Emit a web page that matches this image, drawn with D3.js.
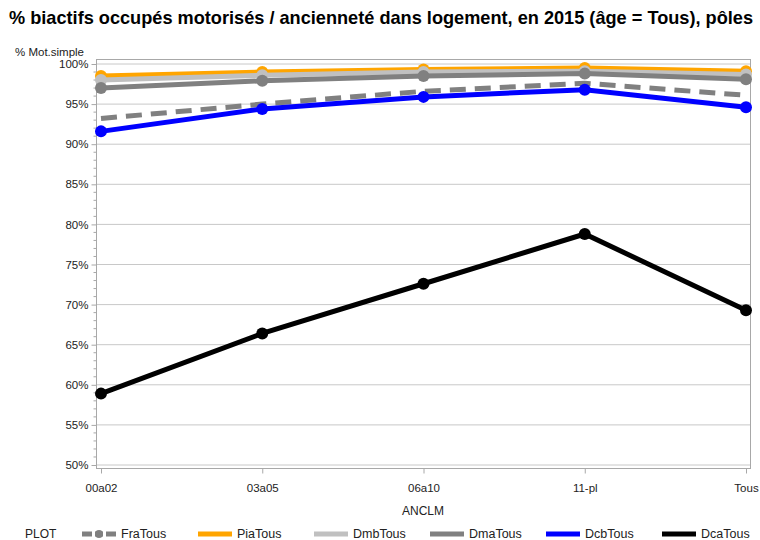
<!DOCTYPE html>
<html>
<head>
<meta charset="utf-8">
<script src="https://cdn.jsdelivr.net/npm/d3@7"></script>
<style>
  body { margin: 0; background: #fff; }
  svg { font-family: "Liberation Sans", Arial, sans-serif; }
</style>
</head>
<body>
<div id="chart"></div>
<script>
// données
const categories = ["00a02", "03a05", "06a10", "11-pl", "Tous"];
const seriesNames = ["FraTous", "PiaTous", "DmbTous", "DmaTous", "DcbTous", "DcaTous"];
const fraTous = [93.2, 95.0, 96.6, 97.6, 96.1];
const piaTous = [98.5, 99.0, 99.3, 99.5, 99.1];
const dmbTous = [98.0, 98.6, 99.0, 99.1, 98.7];
const dmaTous = [97.0, 97.9, 98.5, 98.8, 98.1];
const dcbTous = [91.6, 94.4, 95.9, 96.8, 94.6];
const dcaTous = [58.9, 66.4, 72.6, 78.8, 69.3];
const yTicks = [50, 55, 60, 65, 70, 75, 80, 85, 90, 95, 100];

const styles = {
  FraTous: { color: "#808080", dash: "16,9", marker: false },
  PiaTous: { color: "#FFA500", dash: null, marker: true },
  DmbTous: { color: "#C0C0C0", dash: null, marker: true },
  DmaTous: { color: "#808080", dash: null, marker: true },
  DcbTous: { color: "#0000FF", dash: null, marker: true },
  DcaTous: { color: "#000000", dash: null, marker: true }
};
const values = [fraTous, piaTous, dmbTous, dmaTous, dcbTous, dcaTous];

const width = 760, height = 540;
const svg = d3.select("#chart").append("svg")
  .attr("width", width).attr("height", height);

const x = d3.scalePoint().domain(categories).range([101, 746]);
const y = d3.scaleLinear().domain([50, 100]).range([465, 64]);

// titre
svg.append("text").attr("x", 9).attr("y", 24)
  .attr("font-size", 18.1).attr("font-weight", "bold")
  .attr("textLength", 744).attr("lengthAdjust", "spacingAndGlyphs")
  .text("% biactifs occupés motorisés / ancienneté dans logement, en 2015 (âge = Tous), pôles");

svg.append("text").attr("x", 15).attr("y", 56)
  .attr("font-size", 11.5).attr("fill", "#222").text("% Mot.simple");

// grille
svg.append("g").selectAll("line").data(yTicks).enter().append("line")
  .attr("x1", 96).attr("x2", 750)
  .attr("y1", d => y(d)).attr("y2", d => y(d))
  .attr("stroke", "#c8c8c8").attr("stroke-width", 1);

// cadre
svg.append("rect").attr("x", 96.5).attr("y", 59.5).attr("width", 654).attr("height", 409)
  .attr("fill", "none").attr("stroke", "#a8a8a8");

// axe y
const yAxis = d3.axisLeft(y).tickValues(yTicks).tickFormat(d => d + "%").tickSize(5).tickPadding(3);
const gy = svg.append("g").attr("transform", "translate(96.5,0)").call(yAxis);
gy.select(".domain").remove();
gy.selectAll(".tick line").attr("stroke", "#a8a8a8");
gy.selectAll("text").attr("font-size", 11.5).attr("fill", "#222");

const minorTicks = d3.range(50, 100.01, 1).filter(v => v % 5 !== 0);
svg.append("g").selectAll("line").data(minorTicks).enter().append("line")
  .attr("x1", 93.5).attr("x2", 96.5)
  .attr("y1", d => y(d)).attr("y2", d => y(d))
  .attr("stroke", "#a8a8a8");

// axe x
const xAxis = d3.axisBottom(x).tickSize(5).tickPadding(10);
const gx = svg.append("g").attr("transform", "translate(0,468.5)").call(xAxis);
gx.select(".domain").remove();
gx.selectAll(".tick line").attr("stroke", "#a8a8a8");
gx.selectAll("text").attr("font-size", 11.5).attr("fill", "#222");

svg.append("text").attr("x", 423).attr("y", 515).attr("text-anchor", "middle")
  .attr("font-size", 12).attr("fill", "#222").text("ANCLM");

// courbes
const line = d3.line().x((d, i) => x(categories[i])).y(d => y(d));
seriesNames.forEach((name, k) => {
  const s = styles[name];
  const g = svg.append("g");
  g.append("path").datum(values[k])
    .attr("d", line).attr("fill", "none")
    .attr("stroke", s.color).attr("stroke-width", 5)
    .attr("stroke-dasharray", s.dash);
  if (s.marker) {
    g.selectAll("circle").data(values[k]).enter().append("circle")
      .attr("cx", (d, i) => x(categories[i])).attr("cy", d => y(d))
      .attr("r", 6).attr("fill", s.color);
  }
});

// légende
svg.append("text").attr("x", 25).attr("y", 538).attr("font-size", 12).attr("fill", "#222").text("PLOT");
const leg = svg.append("g").selectAll("g").data(seriesNames).enter().append("g")
  .attr("transform", (d, i) => `translate(${82 + i * 116},534)`);
leg.append("line").attr("x1", 0).attr("x2", 34).attr("y1", 0).attr("y2", 0)
  .attr("stroke", d => styles[d].color).attr("stroke-width", 5)
  .attr("stroke-dasharray", d => styles[d].dash ? "10,3,8,3,10" : null);
leg.filter(d => d === "FraTous").append("circle").attr("cx", 17).attr("cy", 0).attr("r", 4)
  .attr("fill", d => styles[d].color);
leg.append("text").attr("x", 39).attr("y", 4).attr("font-size", 12.5).attr("fill", "#222")
  .text(d => d);
</script>
</body>
</html>
